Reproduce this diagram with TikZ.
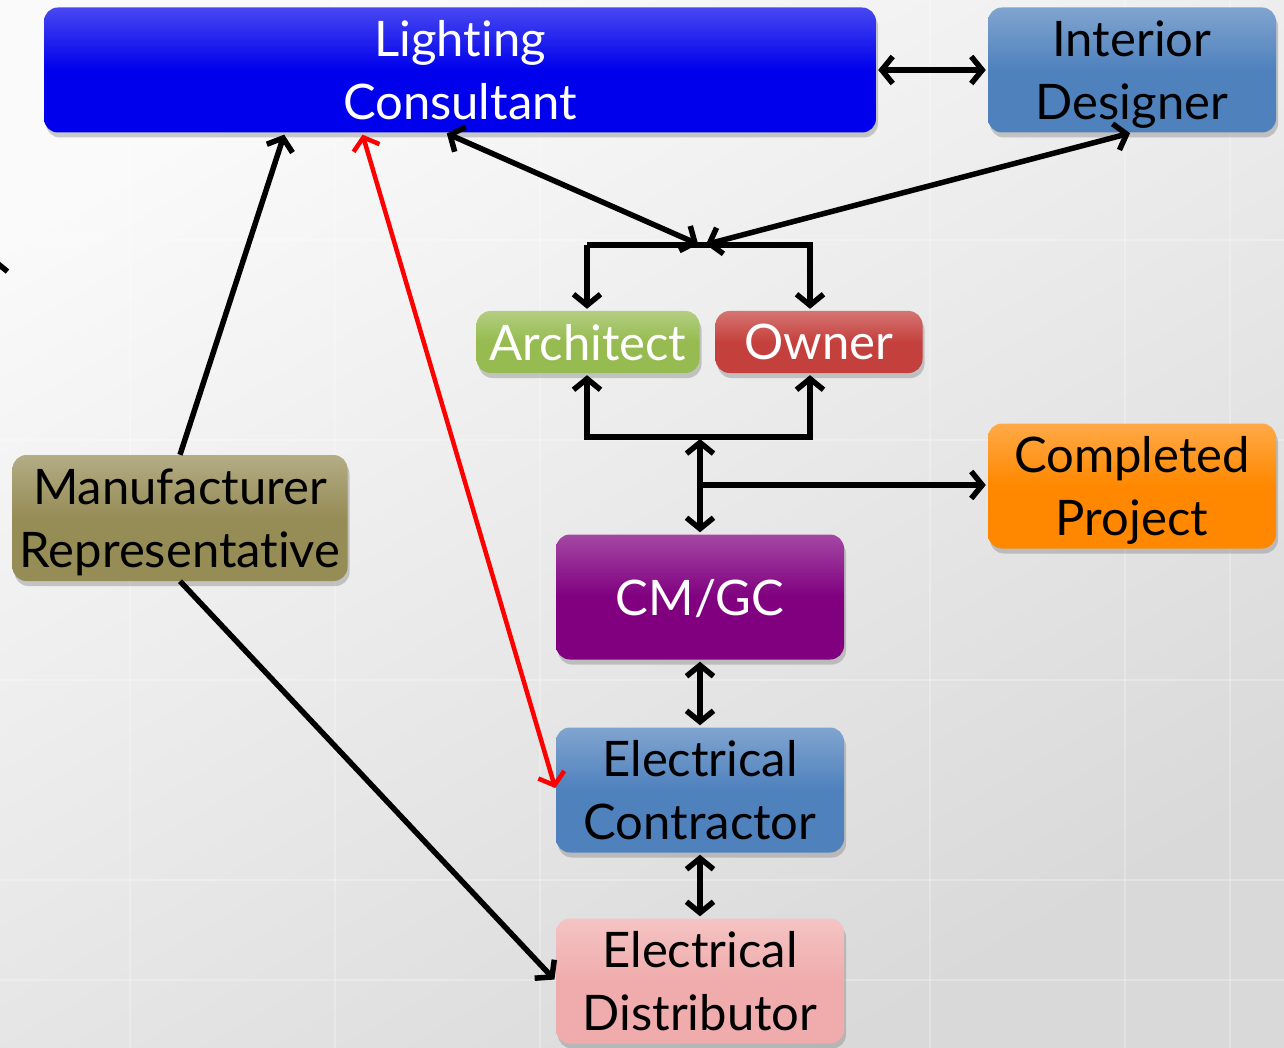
\documentclass[tikz,border=0pt]{standalone}
\usepackage{fontspec}
\setmainfont[RawFeature=-liga]{Lato}
\usetikzlibrary{arrows.meta,shadows,calc}
\definecolor{lcblue}{RGB}{0,0,236}
\definecolor{idblue}{RGB}{79,129,189}
\definecolor{archgreen}{RGB}{150,187,80}
\definecolor{ownred}{RGB}{196,64,60}
\definecolor{cporange}{RGB}{255,136,0}
\definecolor{mrolive}{RGB}{150,140,86}
\definecolor{cmpurple}{RGB}{128,0,128}
\definecolor{edpink}{RGB}{240,172,172}

\begin{document}
\begin{tikzpicture}[x=1pt,y=-1pt,
			box/.style={rectangle, rounded corners=14pt, align=center, inner sep=0pt, text depth=0pt,
					font=\fontsize{49}{63}\selectfont,
					drop shadow={opacity=0.4, shadow xshift=2pt, shadow yshift=-5pt}},
			fillbox/.style={box, top color=#1!72!white, bottom color=#1, middle color=#1},
			wide/.style={minimum width=288pt, minimum height=125pt},
			conn/.style={line width=5.5pt, black},
			sgl/.style={conn, -{Straight Barb[length=11pt,width=27pt]}, shorten >=2pt},
			dbl/.style={conn, {Straight Barb[length=11pt,width=27pt]}-{Straight Barb[length=11pt,width=27pt]}, shorten >=2pt, shorten <=2pt}]
		% background
		\useasboundingbox (0,0) rectangle (1284,1048);
		\shade[shading=axis, top color=gray!4, bottom color=gray!30, shading angle=30] (0,0) rectangle (1284,1048);
		\foreach \gx in {130,335,540,930,1125,1230}
			\draw[white, opacity=0.25, line width=2.5pt] (\gx,0) -- (\gx,1048);
		\foreach \gy in {240,440,680,880,980}
			\draw[white, opacity=0.25, line width=2.5pt] (0,\gy) -- (1284,\gy);

		% boxes
		\node[fillbox=lcblue, text=white, minimum width=832pt, minimum height=125pt] (lc) at (460,70) {Lighting\\Consultant};
		\node[fillbox=idblue, wide] (id) at (1132,70) {Interior\\Designer};
		\node[fillbox=archgreen, text=white, minimum width=223pt, minimum height=62pt] (arch) at (588,342) {Architect};
		\node[fillbox=ownred, text=white, minimum width=207pt, minimum height=62pt] (own) at (819,342) {Owner};
		\node[fillbox=cporange, wide] (cp) at (1132,486) {Completed\\Project};
		\node[fillbox=mrolive, minimum width=335pt, minimum height=126pt] (mr) at (180,518) {Manufacturer\\Representative};
		\node[fillbox=cmpurple, text=white, wide] (cm) at (700,597) {CM/GC};
		\node[fillbox=idblue, wide] (ec) at (700,790) {Electrical\\Contractor};
		\node[fillbox=edpink, wide] (ed) at (700,981) {Electrical\\Distributor};

		% junctions
		\coordinate (up) at (700,245);
		\coordinate (ul) at (587,245);
		\coordinate (ur) at (810,245);
		\coordinate (dn) at (700,437);
		\coordinate (ll) at (587,437);
		\coordinate (lr) at (810,437);
		\coordinate (br) at (700,485);
		\coordinate (offa) at (-6,300);
		\coordinate (offb) at (-6,255);

		% connectors
		\draw[dbl] (lc.east) -- (id.west);
		\draw[dbl] ($(lc.south)+(-15,0)$) -- (up);
		\draw[dbl] (id.south) -- ($(up)+(4,0)$);
		\draw[sgl] (ul) -- (ur) -- (ur |- own.north);
		\draw[sgl] (ul) -- (ul |- arch.north);
		\draw[sgl] (ll) -- (lr) -- (lr |- own.south);
		\draw[sgl] (lr) -- (ll) -- (ll |- arch.south);
		\draw[dbl] (dn) -- (cm.north);
		\draw[sgl] (br) -- (cp.west |- br);
		\draw[dbl] (cm.south) -- (ec.north);
		\draw[dbl] (ec.south) -- (ed.north);
		\draw[sgl] (mr.north) -- ($(lc.south west)+(241,0)$);
		\draw[dbl, red, line width=4.5pt] ($(lc.south)+(-98,0)$) -- (ec.west);
		\draw[sgl] (mr.south) -- (ed.west);
		\draw[sgl] (offa) -- (offb);
	\end{tikzpicture}
\end{document}
